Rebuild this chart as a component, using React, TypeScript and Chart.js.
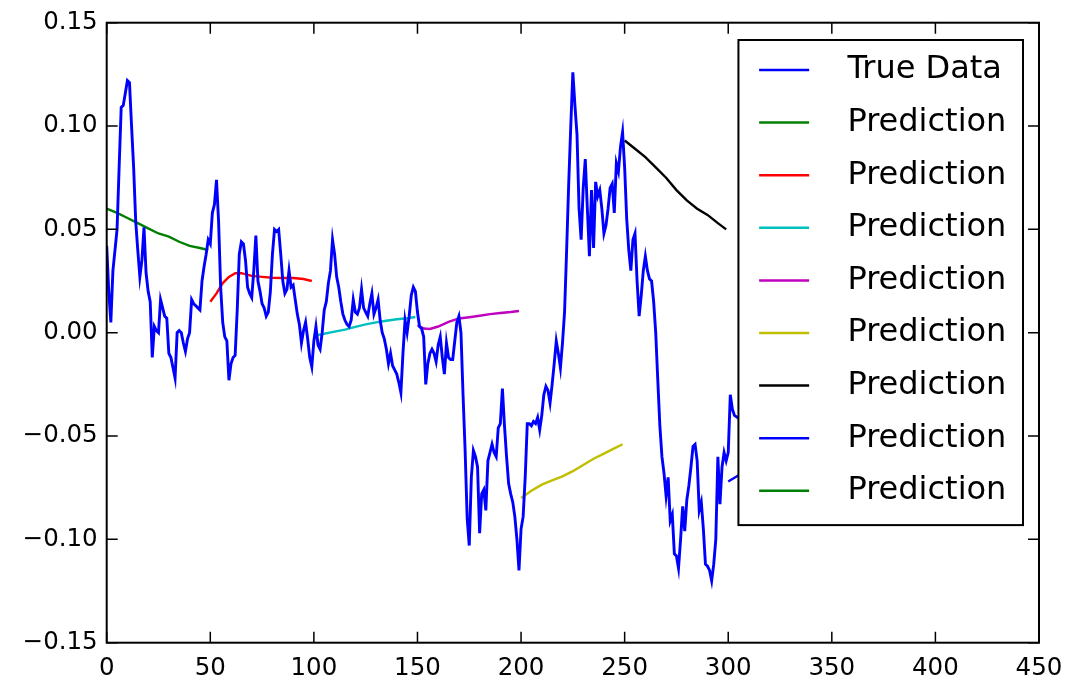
import React, { useEffect, useRef } from 'react';
import { Chart, registerables } from 'chart.js';

Chart.register(...registerables);

// True data, one value per step starting at x = 0 (visible part up to x = 303)
const trueY: number[] = [
  0.042, 0.020, 0.005, 0.030, 0.040, 0.050, 0.080, 0.109, 0.110, 0.116,
  0.122, 0.121, 0.100, 0.080, 0.054, 0.040, 0.027, 0.035, 0.051, 0.029,
  0.020, 0.015, -0.012, 0.003, 0.001, 0.000, 0.016, 0.012, 0.008, 0.007,
  -0.010, -0.012, -0.017, -0.022, 0.000, 0.001, 0.000, -0.005, -0.009, -0.003,
  0.000, 0.016, 0.014, 0.013, 0.012, 0.011, 0.025, 0.032, 0.038, 0.045,
  0.043, 0.058, 0.062, 0.074, 0.054, 0.022, 0.005, -0.002, -0.004, -0.023,
  -0.015, -0.012, -0.011, 0.011, 0.038, 0.044, 0.043, 0.035, 0.022, 0.019,
  0.017, 0.030, 0.047, 0.025, 0.020, 0.014, 0.012, 0.008, 0.010, 0.020,
  0.038, 0.050, 0.049, 0.050, 0.038, 0.025, 0.019, 0.021, 0.030, 0.022,
  0.023, 0.016, 0.009, 0.004, -0.005, 0.001, 0.005, -0.003, -0.012, -0.0165,
  -0.004, 0.003, -0.006, -0.008, 0.000, 0.011, 0.015, 0.024, 0.030, 0.045,
  0.038, 0.027, 0.022, 0.015, 0.009, 0.006, 0.004, 0.003, 0.006, 0.016,
  0.010, 0.009, 0.012, 0.021, 0.012, 0.010, 0.008, 0.014, 0.019, 0.009,
  0.012, 0.016, 0.006, 0.000, -0.003, -0.008, -0.015, -0.010, -0.016, -0.018,
  -0.020, -0.024, -0.029, -0.010, 0.006, 0.000, 0.008, 0.018, 0.022, 0.020,
  0.010, 0.003, 0.002, -0.002, -0.025, -0.015, -0.010, -0.008, -0.010, -0.014,
  -0.006, -0.002, -0.012, -0.020, -0.005, -0.012, -0.013, -0.013, -0.004, 0.005,
  0.008, 0.000, -0.030, -0.057, -0.090, -0.103, -0.070, -0.057, -0.060, -0.065,
  -0.097, -0.078, -0.076, -0.086, -0.062, -0.058, -0.054, -0.058, -0.060, -0.046,
  -0.044, -0.027, -0.045, -0.060, -0.073, -0.078, -0.082, -0.089, -0.100, -0.115,
  -0.095, -0.089, -0.070, -0.044, -0.044, -0.045, -0.043, -0.044, -0.041, -0.047,
  -0.040, -0.030, -0.026, -0.028, -0.034, -0.025, -0.015, -0.004, -0.010, -0.017,
  -0.005, 0.010, 0.040, 0.072, 0.100, 0.126, 0.110, 0.096, 0.060, 0.045,
  0.070, 0.084, 0.060, 0.037, 0.069, 0.041, 0.073, 0.066, 0.069, 0.060,
  0.048, 0.052, 0.060, 0.070, 0.072, 0.058, 0.082, 0.078, 0.090, 0.097,
  0.080, 0.055, 0.040, 0.030, 0.045, 0.048, 0.025, 0.008, 0.018, 0.030,
  0.037, 0.030, 0.026, 0.025, 0.015, 0.000, -0.023, -0.045, -0.060, -0.068,
  -0.079, -0.070, -0.091, -0.088, -0.107, -0.108, -0.114, -0.100, -0.084, -0.096,
  -0.081, -0.074, -0.065, -0.055, -0.054, -0.062, -0.086, -0.082, -0.095, -0.112,
  -0.113, -0.115, -0.120, -0.112, -0.100, -0.060, -0.083, -0.065, -0.058, -0.062,
  -0.058, -0.030, -0.037, -0.040,
];
// True data continuing behind the legend (not visible in the reference)
const trueTailX: number[] = [310, 320, 330, 340, 350, 360, 370, 380, 390, 399];
const trueTailY: number[] = [-0.045, -0.030, -0.010, 0.000, 0.010, 0.020, 0.015, 0.025, 0.020, 0.030];

// Prediction segments
const pred1X = [0, 5, 10, 15, 20, 25, 30, 35, 40, 45, 49];
const pred1Y = [0.060, 0.058, 0.0555, 0.053, 0.0505, 0.048, 0.0465, 0.044, 0.042, 0.041, 0.040];
const pred2X = [50, 53, 56, 59, 62, 65, 70, 75, 80, 85, 90, 95, 99];
const pred2Y = [0.015, 0.019, 0.024, 0.027, 0.0288, 0.0288, 0.0275, 0.027, 0.0266, 0.0265, 0.0265, 0.026, 0.025];
const pred3X = [100, 105, 110, 115, 120, 125, 130, 135, 140, 145, 149];
const pred3Y = [-0.0015, -0.0005, 0.0005, 0.0015, 0.0028, 0.004, 0.005, 0.0058, 0.0065, 0.007, 0.0076];
const pred4X = [150, 153, 156, 160, 165, 170, 175, 180, 185, 190, 195, 199];
const pred4Y = [0.0036, 0.002, 0.0018, 0.003, 0.0052, 0.0069, 0.0075, 0.0082, 0.009, 0.0095, 0.010, 0.0105];
const pred5X = [200, 205, 210, 215, 220, 225, 230, 235, 240, 245, 249];
const pred5Y = [-0.080, -0.0765, -0.0735, -0.0715, -0.0695, -0.067, -0.064, -0.061, -0.0585, -0.056, -0.054];
const pred6X = [250, 255, 260, 265, 270, 275, 280, 285, 290, 295, 299];
const pred6Y = [0.093, 0.089, 0.085, 0.080, 0.075, 0.069, 0.064, 0.060, 0.057, 0.053, 0.050];
const pred7X = [300, 305, 310, 320, 330, 340, 349];
const pred7Y = [-0.072, -0.069, -0.067, -0.062, -0.058, -0.055, -0.052];
const pred8X = [350, 360, 370, 380, 390, 399];
const pred8Y = [0.020, 0.018, 0.016, 0.015, 0.014, 0.013];

const predXs = [pred1X, pred2X, pred3X, pred4X, pred5X, pred6X, pred7X, pred8X];
const predYs = [pred1Y, pred2Y, pred3Y, pred4Y, pred5Y, pred6Y, pred7Y, pred8Y];
const predColors = ['#008000', '#ff0000', '#00bfbf', '#bf00bf', '#bfbf00', '#000000', '#0000ff', '#008000'];
const trueLabel = 'True Data';
const predLabel = 'Prediction';

const W = 1069;
const H = 682;

const mplPlugin = {
  id: 'mplFrameLegend',
  afterDraw(chart: any) {
    const { ctx, chartArea: a, scales } = chart;
    ctx.save();
    // inward ticks on all four sides
    const tl = 11;
    ctx.strokeStyle = '#000';
    ctx.lineWidth = 1.5;
    ctx.beginPath();
    scales.x.ticks.forEach((t: any) => {
      const px = scales.x.getPixelForValue(t.value);
      ctx.moveTo(px, a.bottom);
      ctx.lineTo(px, a.bottom - tl);
      ctx.moveTo(px, a.top);
      ctx.lineTo(px, a.top + tl);
    });
    scales.y.ticks.forEach((t: any) => {
      const py = scales.y.getPixelForValue(t.value);
      ctx.moveTo(a.left, py);
      ctx.lineTo(a.left + tl, py);
      ctx.moveTo(a.right, py);
      ctx.lineTo(a.right - tl, py);
    });
    ctx.stroke();
    ctx.lineWidth = 2;
    ctx.strokeRect(a.left, a.top, a.right - a.left, a.bottom - a.top);

    // legend (upper right, inside the axes)
    const fontPx = 32;
    ctx.font = `${fontPx}px "DejaVu Sans"`;
    const items = chart.data.datasets.map((d: any) => ({ label: d.label, color: d.borderColor }));
    const maxW = Math.max(...items.map((i: any) => ctx.measureText(i.label).width));
    const rowH = 52.6;
    const boxW = 109 + maxW + 16.6;
    const boxH = 30 + (items.length - 1) * rowH + 34.3;
    const bx = a.right - 16 - boxW;
    const by = a.top + 17.3;
    ctx.fillStyle = '#ffffff';
    ctx.fillRect(bx, by, boxW, boxH);
    ctx.strokeStyle = '#000';
    ctx.lineWidth = 2;
    ctx.strokeRect(bx, by, boxW, boxH);
    ctx.textBaseline = 'middle';
    ctx.textAlign = 'left';
    items.forEach((it: any, i: number) => {
      const cy = by + 30 + i * rowH;
      ctx.strokeStyle = it.color;
      ctx.lineWidth = 2.5;
      ctx.beginPath();
      ctx.moveTo(bx + 20.7, cy);
      ctx.lineTo(bx + 70.7, cy);
      ctx.stroke();
      ctx.fillStyle = '#000';
      ctx.fillText(it.label, bx + 109, cy);
    });
    ctx.restore();
  },
};

const zeroPad = (s: any) => {
  s.paddingLeft = 0;
  s.paddingRight = 0;
  s.paddingTop = 0;
  s.paddingBottom = 0;
};

export default function App() {
  const ref = useRef<HTMLCanvasElement | null>(null);

  useEffect(() => {
    if (!ref.current) return;
    Chart.defaults.font.family = '"DejaVu Sans"';
    const trueData = trueY
      .map((y, i) => ({ x: i, y }))
      .concat(trueTailX.map((x, i) => ({ x, y: trueTailY[i] })));
    const datasets: any[] = [
      {
        label: trueLabel,
        data: trueData,
        borderColor: '#0000ff',
        borderWidth: 2.9,
        pointRadius: 0,
        tension: 0,
        fill: false,
      },
      ...predXs.map((xs, k) => ({
        label: predLabel,
        data: xs.map((x, i) => ({ x, y: predYs[k][i] })),
        borderColor: predColors[k],
        borderWidth: 2.4,
        pointRadius: 0,
        tension: 0,
        fill: false,
      })),
    ];
    const chart = new Chart(ref.current, {
      type: 'line',
      data: { datasets },
      options: {
        animation: false,
        responsive: false,
        maintainAspectRatio: false,
        devicePixelRatio: 1,
        layout: { padding: { top: 22.7, right: 30, left: 0, bottom: 0 } },
        plugins: { legend: { display: false }, tooltip: { enabled: false } },
        scales: {
          x: {
            type: 'linear',
            min: 0,
            max: 450,
            grid: { display: false, drawTicks: false },
            border: { display: false },
            afterFit: (s: any) => { s.height = H - 642.7; zeroPad(s); },
            ticks: {
              stepSize: 50,
              padding: 11.6,
              color: '#000',
              font: { size: 24.5, family: '"DejaVu Sans"' },
              maxRotation: 0,
              autoSkip: false,
            },
          },
          y: {
            type: 'linear',
            min: -0.15,
            max: 0.15,
            grid: { display: false, drawTicks: false },
            border: { display: false },
            afterFit: (s: any) => { s.width = 106.7; zeroPad(s); },
            ticks: {
              stepSize: 0.05,
              padding: 9,
              color: '#000',
              font: { size: 24.5, family: '"DejaVu Sans"' },
              callback: (v: any) => {
                const n = Math.abs(Number(v)) < 1e-9 ? 0 : Number(v);
                return n.toFixed(2).replace('-', '\u2212');
              },
            },
          },
        },
      },
      plugins: [mplPlugin],
    });
    return () => chart.destroy();
  }, []);

  return (
    <div style={{ position: 'fixed', left: 0, top: 0, width: W, height: H, background: '#fff' }}>
      <canvas ref={ref} width={W} height={H} style={{ display: 'block', width: W, height: H }} />
    </div>
  );
}
